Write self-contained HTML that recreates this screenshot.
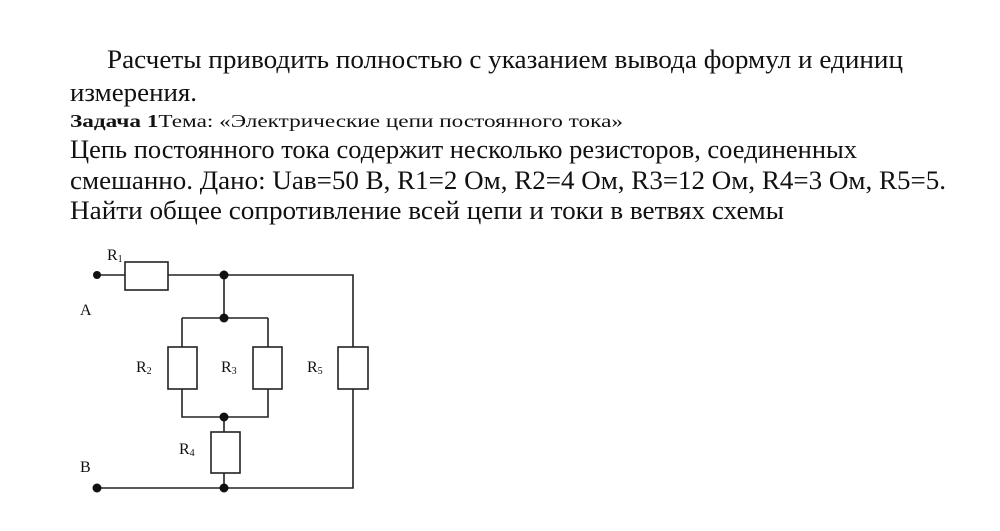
<!DOCTYPE html>
<html><head><meta charset="utf-8"><style>
html,body{margin:0;padding:0;background:#fff;width:1000px;height:531px;overflow:hidden}
svg{display:block}
text{font-family:"Liberation Serif","DejaVu Serif",serif;fill:#111}
</style></head><body>
<svg width="1000" height="531" viewBox="0 0 1000 531">
<text x="107" y="68" font-size="26" textLength="796" lengthAdjust="spacingAndGlyphs">Расчеты приводить полностью с указанием вывода формул и единиц</text>
<text x="70" y="101" font-size="26" textLength="127" lengthAdjust="spacingAndGlyphs">измерения.</text>
<text x="70" y="127" font-size="18" textLength="553" lengthAdjust="spacingAndGlyphs"><tspan font-weight="bold">Задача 1</tspan>Тема: «Электрические цепи постоянного тока»</text>
<text x="70" y="158" font-size="26" textLength="787" lengthAdjust="spacingAndGlyphs">Цепь постоянного тока содержит несколько резисторов, соединенных</text>
<text x="70" y="189" font-size="26" textLength="876" lengthAdjust="spacingAndGlyphs">смешанно. Дано: Uав=50 В, R1=2 Ом, R2=4 Ом, R3=12 Ом, R4=3 Ом, R5=5.</text>
<text x="70" y="219" font-size="26" textLength="714" lengthAdjust="spacingAndGlyphs">Найти общее сопротивление всей цепи и токи в ветвях схемы</text>

<g stroke="#222" stroke-width="1.6" fill="none">
<path d="M95 275H125M168 275H353V347M353 389V488H97"/>
<rect x="125" y="262" width="43" height="28" fill="#fff"/>
<path d="M224 275V318M182 318H268M182 318V347M268 318V347M182 389V417H268V389M224 417V432M224 473V488"/>
<rect x="168" y="347" width="29" height="42"/>
<rect x="253" y="347" width="29" height="42"/>
<rect x="211" y="432" width="29" height="41"/>
<rect x="338" y="347" width="30" height="42"/>
</g>
<g fill="#111">
<circle cx="97" cy="275" r="4"/>
<circle cx="224" cy="275" r="4.5"/>
<circle cx="224" cy="318" r="4.5"/>
<circle cx="224" cy="417" r="4.5"/>
<circle cx="224" cy="488" r="4.5"/>
<circle cx="97" cy="488" r="4.5"/>
</g>
<g font-size="16">
<text x="107" y="260">R<tspan font-size="10" dy="2">1</tspan></text>
<text x="80" y="315">A</text>
<text x="136" y="372">R<tspan font-size="10" dy="2">2</tspan></text>
<text x="221" y="372">R<tspan font-size="10" dy="2">3</tspan></text>
<text x="307" y="372">R<tspan font-size="10" dy="2">5</tspan></text>
<text x="179" y="454">R<tspan font-size="10" dy="2">4</tspan></text>
<text x="80" y="472">B</text>
</g>
</svg>
</body></html>
